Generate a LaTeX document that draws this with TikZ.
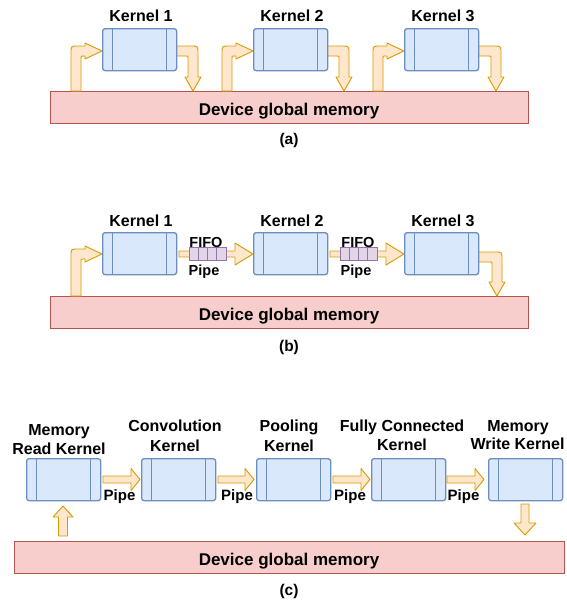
\documentclass[tikz,border=0pt]{standalone}
\usepackage{fontspec}
\setmainfont{Liberation Sans}
\definecolor{kfill}{HTML}{DAE8FC}
\definecolor{kline}{HTML}{6C8EBF}
\definecolor{mfill}{HTML}{F8CECC}
\definecolor{mline}{HTML}{B85450}
\definecolor{afill}{HTML}{FFE6CC}
\definecolor{aline}{HTML}{D79B00}
\definecolor{ffill}{HTML}{E1D5E7}
\definecolor{fline}{HTML}{9673A6}
\tikzset{
  kbox/.style={draw=kline, fill=kfill, line width=1.3pt, rounded corners=2.5pt,
    minimum width=74pt, minimum height=42pt, inner sep=0pt, anchor=north west},
  kstrip/.style={draw=kline, line width=1.3pt},
  membar/.style={draw=mline, fill=mfill, line width=1.1pt, inner sep=0pt, anchor=north west},
  blk/.style={draw=aline, fill=afill, line width=0.9pt, line join=round},
  fcell/.style={draw=fline, fill=ffill, line width=0.9pt},
  klab/.style={font=\bfseries\fontsize{16}{19}\selectfont, anchor=base, inner sep=0pt},
  mlab/.style={font=\bfseries\fontsize{17}{20}\selectfont, anchor=base, inner sep=0pt},
  capt/.style={font=\bfseries\fontsize{15.5}{18}\selectfont, anchor=base, inner sep=0pt},
  plab/.style={font=\bfseries\fontsize{14.5}{17}\selectfont, anchor=base, inner sep=0pt},
  cplab/.style={font=\bfseries\fontsize{15}{17}\selectfont, anchor=base, inner sep=0pt},
}
% kernel box: name, x, y
\newcommand\kbx[3]{%
  \node[kbox] (#1) at (#2,#3) {};
  \draw[kstrip] ([xshift=10.5pt]#1.north west) -- ([xshift=10.5pt]#1.south west);
  \draw[kstrip] ([xshift=-10.5pt]#1.north east) -- ([xshift=-10.5pt]#1.south east);
}
% up-bent arrow: xl, ytop, ybot, xtip
\newcommand\upbent[4]{%
  \draw[blk] (#1,#3) -- (#1,{#2+7}) .. controls (#1,#2) .. ({#1+7},#2)
    -- ({#4-17},#2) -- ({#4-17},{#2-3}) -- (#4,{#2+5}) -- ({#4-17},{#2+13})
    -- ({#4-17},{#2+10}) -- ({#1+12},{#2+10}) .. controls ({#1+10},{#2+10}) .. ({#1+10},{#2+12})
    -- ({#1+10},#3) -- cycle;
}
% down-bent arrow: xs, ytop, xr, ytip
\newcommand\downbent[4]{%
  \draw[blk] (#1,#2) -- ({#3-7},#2) .. controls (#3,#2) .. (#3,{#2+7})
    -- (#3,{#4-14}) -- ({#3+3},{#4-14}) -- ({#3-5},#4) -- ({#3-13},{#4-14})
    -- ({#3-10},{#4-14}) -- ({#3-10},{#2+12}) .. controls ({#3-10},{#2+10}) .. ({#3-12},{#2+10})
    -- (#1,{#2+10}) -- cycle;
}
% fifo arrow: x0 (box right)
\newcommand\fifo[1]{%
  \draw[blk] ({#1+3},251) -- ({#1+59},251) -- ({#1+59},243) -- ({#1+77},254)
    -- ({#1+59},265) -- ({#1+59},257) -- ({#1+3},257) -- cycle;
  \foreach \i in {0,1,2,3}{
    \draw[fcell] ({#1+13+9.25*\i},247) rectangle ({#1+13+9.25*(\i+1)},260);
  }
}
% straight pipe arrow: xs, xt, yc
\newcommand\pipearr[3]{%
  \draw[blk] (#1,{#3-3.5}) -- ({#2-9},{#3-3.5}) -- ({#2-9},{#3-11}) -- (#2,#3)
    -- ({#2-9},{#3+11}) -- ({#2-9},{#3+3.5}) -- (#1,{#3+3.5}) -- cycle;
}
\begin{document}
\begin{tikzpicture}[x=1pt,y=-1pt]
\useasboundingbox (0,0) rectangle (567,606);

% ---------- (a) ----------
\node[membar, minimum width=478pt, minimum height=32pt] (ma) at (50,91) {};
\node[mlab] (mat) at (289,115) {Device global memory};
\upbent{71}{46}{91}{102}
\upbent{222}{46}{91}{253}
\upbent{373}{46}{91}{404}
\downbent{176}{46}{198}{91}
\downbent{327}{46}{349}{91}
\downbent{478}{46}{501}{91}
\kbx{a1}{102}{28}
\kbx{a2}{253}{28}
\kbx{a3}{404}{28}
\node[klab] (la1) at (141,21) {Kernel 1};
\node[klab] (la2) at (292,21) {Kernel 2};
\node[klab] (la3) at (443,21) {Kernel 3};
\node[capt] (capa) at (289,144) {(a)};

% ---------- (b) ----------
\node[membar, minimum width=478pt, minimum height=32pt] (mb) at (50,296) {};
\node[mlab] (mbt) at (289,320) {Device global memory};
\upbent{71}{249}{296}{102}
\downbent{478}{252}{502}{296}
\fifo{176}
\fifo{327}
\kbx{b1}{102}{232}
\kbx{b2}{253}{232}
\kbx{b3}{404}{232}
\node[klab] (lb1) at (141,226) {Kernel 1};
\node[klab] (lb2) at (292,226) {Kernel 2};
\node[klab] (lb3) at (443,226) {Kernel 3};
\node[plab] (f1) at (206,247) {FIFO};
\node[plab] (p1) at (204,275) {Pipe};
\node[plab] (f2) at (358,247) {FIFO};
\node[plab] (p2) at (356,275) {Pipe};
\node[capt] (capb) at (289,351) {(b)};

% ---------- (c) ----------
\node[membar, minimum width=550pt, minimum height=32pt] (mc) at (14,541) {};
\node[mlab] (mct) at (289,565) {Device global memory};
\kbx{c1}{26}{458}
\kbx{c2}{141}{458}
\kbx{c3}{256}{458}
\kbx{c4}{371}{458}
\kbx{c5}{488}{458}
\pipearr{103}{140}{479.5}
\pipearr{218}{254}{479.5}
\pipearr{333}{370}{479.5}
\pipearr{447}{484}{479.5}
\node[cplab] (cp1) at (119.5,500) {Pipe};
\node[cplab] (cp2) at (237,500) {Pipe};
\node[cplab] (cp3) at (350,500) {Pipe};
\node[cplab] (cp4) at (463.5,500) {Pipe};
% up arrow into memory read kernel
\draw[blk] (58.5,536) -- (58.5,517) -- (53,517) -- (63,506) -- (73,517) -- (67.5,517) -- (67.5,536) -- cycle;
% down arrow from memory write kernel
\draw[blk] (521,504) -- (529,504) -- (529,523) -- (536,523) -- (525,535) -- (514,523) -- (521,523) -- cycle;
\node[klab] (lc1a) at (59,435) {Memory};
\node[klab] (lc1b) at (59,454) {Read Kernel};
\node[klab] (lc2a) at (175,431) {Convolution};
\node[klab] (lc2b) at (175,451) {Kernel};
\node[klab] (lc3a) at (289,431) {Pooling};
\node[klab] (lc3b) at (289,451) {Kernel};
\node[klab] (lc4a) at (402,431) {Fully Connected};
\node[klab] (lc4b) at (402,450) {Kernel};
\node[klab] (lc5a) at (518,431) {Memory};
\node[klab] (lc5b) at (517.5,449) {Write Kernel};
\node[capt] (capc) at (289,595) {(c)};
\end{tikzpicture}
\end{document}
